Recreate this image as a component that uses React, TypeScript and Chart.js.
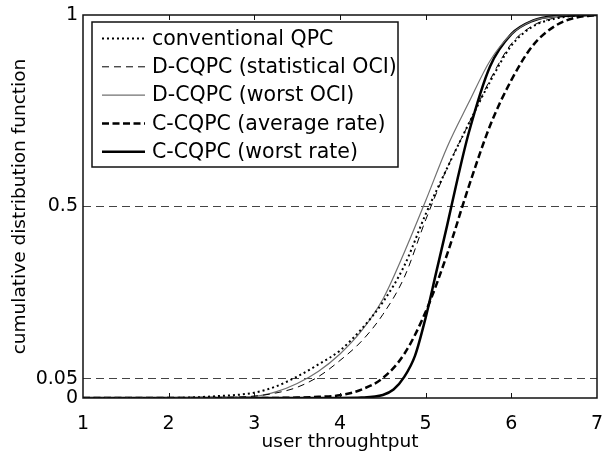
import React, { useEffect, useRef } from "react";
import { Chart, registerables } from "chart.js";

Chart.register(...registerables);

// ---- data ----
const xTicks = [1, 2, 3, 4, 5, 6, 7];
const yTicks = [0, 0.05, 0.5, 1];

const seriesNames = [
  "conventional QPC",
  "D-CQPC (statistical OCI)",
  "D-CQPC (worst OCI)",
  "C-CQPC (average rate)",
  "C-CQPC (worst rate)",
];

const qpcX = [1, 2, 2.5, 3, 3.25, 3.5, 3.75, 4, 4.25, 4.5, 4.75, 5, 5.25, 5.5, 5.75, 6, 6.25, 6.5, 6.75, 7];
const qpcY = [0, 0, 0.004, 0.014, 0.03, 0.056, 0.088, 0.124, 0.18, 0.25, 0.345, 0.48, 0.6, 0.715, 0.825, 0.92, 0.97, 0.99, 0.998, 1];

const statOciX = [1, 2, 2.5, 3, 3.25, 3.5, 3.75, 4, 4.25, 4.5, 4.75, 5, 5.25, 5.5, 5.75, 6, 6.25, 6.5, 6.75, 7];
const statOciY = [0, 0, 0.001, 0.005, 0.013, 0.028, 0.056, 0.098, 0.148, 0.218, 0.315, 0.465, 0.6, 0.715, 0.83, 0.925, 0.972, 0.992, 0.999, 1];

const worstOciX = [1, 2, 2.5, 3, 3.25, 3.5, 3.75, 4, 4.25, 4.5, 4.75, 5, 5.25, 5.5, 5.75, 6, 6.25, 6.5, 6.75, 7];
const worstOciY = [0, 0, 0.001, 0.004, 0.016, 0.038, 0.07, 0.115, 0.175, 0.258, 0.38, 0.515, 0.655, 0.77, 0.88, 0.95, 0.985, 0.996, 1, 1];

const avgRateX = [1, 3, 3.5, 3.75, 4, 4.25, 4.5, 4.75, 5, 5.25, 5.5, 5.75, 6, 6.25, 6.5, 6.75, 7];
const avgRateY = [0, 0, 0.001, 0.003, 0.007, 0.022, 0.052, 0.115, 0.225, 0.375, 0.55, 0.71, 0.83, 0.92, 0.97, 0.993, 1];

const worstRateX = [1, 4, 4.25, 4.5, 4.625, 4.75, 4.875, 5, 5.125, 5.25, 5.375, 5.5, 5.75, 6, 6.25, 6.5, 7];
const worstRateY = [0, 0, 0.001, 0.008, 0.022, 0.055, 0.11, 0.21, 0.33, 0.45, 0.575, 0.69, 0.865, 0.95, 0.985, 0.997, 1];

const FONT = "'DejaVu Sans', 'Liberation Sans', Arial, sans-serif";

const pts = (xs: number[], ys: number[]) => xs.map((x, i) => ({ x, y: ys[i] }));

const framePlugin = {
  id: "frame",
  afterDatasetsDraw(chart: any) {
    const { ctx, chartArea: a, scales } = chart;
    ctx.save();
    ctx.setLineDash([]);
    ctx.strokeStyle = "#111";
    ctx.lineWidth = 1.5;
    ctx.strokeRect(a.left, a.top, a.right - a.left, a.bottom - a.top);
    ctx.lineWidth = 1;
    ctx.beginPath();
    for (const v of xTicks) {
      if (v === xTicks[0] || v === xTicks[xTicks.length - 1]) continue;
      const px = Math.round(scales.x.getPixelForValue(v)) + 0.5;
      ctx.moveTo(px, a.bottom);
      ctx.lineTo(px, a.bottom - 5);
      ctx.moveTo(px, a.top);
      ctx.lineTo(px, a.top + 5);
    }
    ctx.stroke();
    ctx.restore();
  },
};

const legendPlugin = {
  id: "boxLegend",
  afterDraw(chart: any) {
    const { ctx, chartArea: a } = chart;
    const left = a.left + 9;
    const top = a.top + 7;
    const w = 306;
    const h = 145;
    ctx.save();
    ctx.fillStyle = "#fff";
    ctx.fillRect(left, top, w, h);
    ctx.setLineDash([]);
    ctx.strokeStyle = "#111";
    ctx.lineWidth = 1.5;
    ctx.strokeRect(left, top, w, h);
    chart.data.datasets.forEach((ds: any, i: number) => {
      const y = top + 16.5 + i * 28.3;
      ctx.beginPath();
      ctx.setLineDash(ds.borderDash || []);
      ctx.lineWidth = ds.borderWidth;
      ctx.strokeStyle = ds.borderColor;
      ctx.moveTo(left + 10, y);
      ctx.lineTo(left + 53, y);
      ctx.stroke();
      ctx.setLineDash([]);
      ctx.fillStyle = "#000";
      ctx.font = `20.5px ${FONT}`;
      ctx.textBaseline = "middle";
      ctx.textAlign = "left";
      ctx.fillText(seriesNames[i], left + 60, y + 1);
    });
    ctx.restore();
  },
};

export default function App() {
  const ref = useRef<HTMLCanvasElement>(null);
  useEffect(() => {
    document.body.style.margin = "0";
    const chart = new Chart(ref.current as HTMLCanvasElement, {
      type: "line",
      data: {
        datasets: [
          {
            label: seriesNames[0],
            data: pts(qpcX, qpcY),
            borderColor: "#000",
            borderWidth: 2,
            borderDash: [2, 3],
            cubicInterpolationMode: "monotone",
          },
          {
            label: seriesNames[1],
            data: pts(statOciX, statOciY),
            borderColor: "#000",
            borderWidth: 1,
            borderDash: [7, 5],
            cubicInterpolationMode: "monotone",
          },
          {
            label: seriesNames[2],
            data: pts(worstOciX, worstOciY),
            borderColor: "#707070",
            borderWidth: 1.2,
            cubicInterpolationMode: "monotone",
          },
          {
            label: seriesNames[3],
            data: pts(avgRateX, avgRateY),
            borderColor: "#000",
            borderWidth: 2.5,
            borderDash: [7, 3.5],
            cubicInterpolationMode: "monotone",
          },
          {
            label: seriesNames[4],
            data: pts(worstRateX, worstRateY),
            borderColor: "#000",
            borderWidth: 2.5,
            cubicInterpolationMode: "monotone",
          },
        ] as any,
      },
      options: {
        responsive: false,
        animation: false,
        parsing: false as any,
        layout: { padding: { left: 0, right: 5, top: 15, bottom: 0 } },
        elements: { point: { radius: 0 } },
        plugins: { legend: { display: false }, tooltip: { enabled: false } },
        scales: {
          x: {
            type: "linear",
            min: 1,
            max: 7,
            afterBuildTicks: (s: any) => {
              s.ticks = xTicks.map((v) => ({ value: v }));
            },
            afterFit: (s: any) => {
              s.height = 57;
              s.paddingLeft = 0;
              s.paddingRight = 0;
            },
            grid: { display: false, drawTicks: false },
            border: { display: false },
            ticks: {
              autoSkip: false,
              maxRotation: 0,
              padding: 15,
              color: "#000",
              font: { family: FONT, size: 19 },
              callback: (v: any) => String(v),
            },
            title: {
              display: true,
              text: "user throughtput",
              color: "#000",
              font: { family: FONT, size: 18.5 },
              padding: { top: 0, bottom: 2 },
            },
          },
          y: {
            type: "linear",
            min: 0,
            max: 1,
            afterBuildTicks: (s: any) => {
              s.ticks = yTicks.map((v) => ({ value: v }));
            },
            afterFit: (s: any) => {
              s.width = 83;
              s.paddingTop = 0;
              s.paddingBottom = 0;
            },
            grid: {
              drawTicks: false,
              lineWidth: 1,
              color: (c: any) =>
                c.tick && (c.tick.value === yTicks[1] || c.tick.value === yTicks[2]) ? "#444" : "rgba(0,0,0,0)",
            },
            border: { display: false, dash: [8, 5] },
            ticks: {
              autoSkip: false,
              padding: 5,
              color: "#000",
              font: { family: FONT, size: 19 },
              callback: (v: any) => String(v),
            },
            title: {
              display: true,
              text: "cumulative distribution function",
              color: "#000",
              font: { family: FONT, size: 18.5 },
              padding: { top: 9, bottom: 0 },
            },
          },
        },
      } as any,
      plugins: [framePlugin, legendPlugin],
    });
    return () => chart.destroy();
  }, []);
  return <canvas ref={ref} width={602} height={455} style={{ display: "block" }} />;
}
